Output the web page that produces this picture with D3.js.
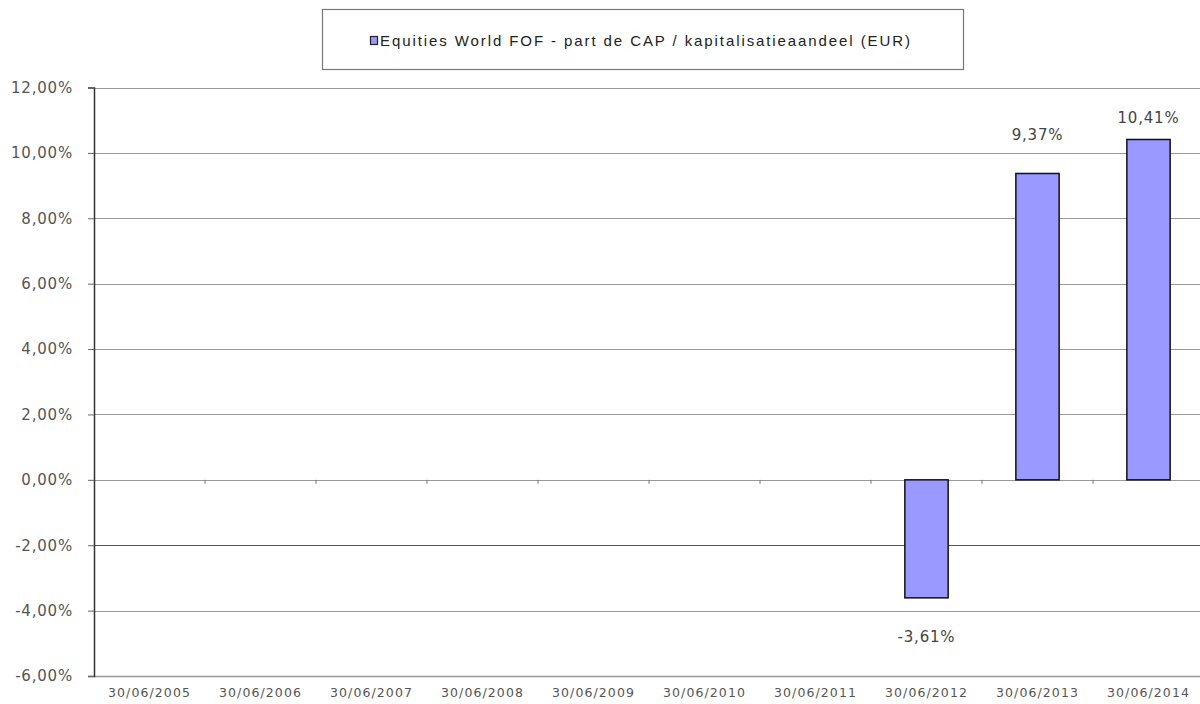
<!DOCTYPE html>
<html>
<head>
<meta charset="utf-8">
<script src="https://cdn.jsdelivr.net/npm/d3@7"></script>
<style>
  body { margin: 0; background: #fff; }
  svg { display: block; }
</style>
</head>
<body>
<div id="chart"></div>
<script>
// chart data
var categories = ['30/06/2005', '30/06/2006', '30/06/2007', '30/06/2008', '30/06/2009',
                  '30/06/2010', '30/06/2011', '30/06/2012', '30/06/2013', '30/06/2014'];
var values = [null, null, null, null, null, null, null, -3.61, 9.37, 10.41];
var yTicks = [-6, -4, -2, 0, 2, 4, 6, 8, 10, 12];
var seriesName = 'Equities World FOF - part de CAP / kapitalisatieaandeel (EUR)';

var W = 1200, H = 704;
var plotLeft = 94, plotRight = 1204, plotTop = 87.5, plotBottom = 676;

var fr = d3.formatLocale({decimal: ',', thousands: '.', grouping: [3], currency: ['', ' €'], minus: '-'});
var pct = function(v){ return fr.format('.2f')(v) + '%'; };

var svg = d3.select('#chart').append('svg')
  .attr('width', W).attr('height', H);

var x = d3.scaleBand().domain(categories).range([plotLeft, plotRight]).paddingInner(0).paddingOuter(0);
var y = d3.scaleLinear().domain([-6, 12]).range([plotBottom, plotTop]);

var labelFont = '"DejaVu Sans", sans-serif';

// gridlines
svg.append('g').selectAll('line')
  .data(yTicks)
  .enter().append('line')
  .attr('x1', plotLeft).attr('x2', plotRight)
  .attr('y1', function(d){ return Math.round(y(d)) + 0.5; })
  .attr('y2', function(d){ return Math.round(y(d)) + 0.5; })
  .attr('stroke', function(d){ return d === -2 ? '#555' : '#999'; })
  .attr('stroke-width', function(d){ return d === -6 ? 1.5 : 1.2; });

// y axis
var yAxis = d3.axisLeft(y).tickValues(yTicks).tickSize(6).tickPadding(15).tickFormat(pct);
var gy = svg.append('g').attr('transform', 'translate(' + plotLeft + ',0)').call(yAxis);
gy.select('.domain').attr('stroke', '#333').attr('stroke-width', 1.5);
gy.selectAll('.tick line').attr('stroke', '#666');
gy.selectAll('.tick text')
  .attr('fill', '#555')
  .style('font-family', labelFont)
  .style('font-size', '15px')
  .style('letter-spacing', '0.8px');

// small ticks on the zero line between categories
svg.append('g').selectAll('line')
  .data(categories.slice(1))
  .enter().append('line')
  .attr('x1', function(d){ return x(d); })
  .attr('x2', function(d){ return x(d); })
  .attr('y1', y(0)).attr('y2', y(0) + 4)
  .attr('stroke', '#777').attr('stroke-width', 1);

// x labels
svg.append('g').selectAll('text')
  .data(categories)
  .enter().append('text')
  .attr('x', function(d){ return x(d) + x.bandwidth() / 2; })
  .attr('y', 697)
  .attr('text-anchor', 'middle')
  .attr('fill', '#555')
  .style('font-family', labelFont)
  .style('font-size', '12.5px')
  .style('letter-spacing', '1.1px')
  .text(function(d){ return d; });

// bars
var barW = x.bandwidth() * 0.39;
var data = categories.map(function(c, i){ return {cat: c, v: values[i]}; })
  .filter(function(d){ return d.v !== null; });

svg.append('g').selectAll('rect')
  .data(data)
  .enter().append('rect')
  .attr('x', function(d){ return x(d.cat) + (x.bandwidth() - barW) / 2; })
  .attr('width', barW)
  .attr('y', function(d){ return y(Math.max(0, d.v)); })
  .attr('height', function(d){ return Math.abs(y(d.v) - y(0)); })
  .attr('fill', '#9999ff')
  .attr('stroke', '#111')
  .attr('stroke-width', 1.5);

// value labels (the 2013 one sits higher in the original, clear of the 10% line)
svg.append('g').selectAll('text')
  .data(data)
  .enter().append('text')
  .attr('x', function(d){ return x(d.cat) + x.bandwidth() / 2; })
  .attr('y', function(d){
    if (d.v < 0) return y(d.v) + 44;
    var ly = y(d.v) - 16;
    if (ly > y(10) - 8 && ly < y(10) + 14) ly = y(d.v) - 33;
    return ly;
  })
  .attr('text-anchor', 'middle')
  .attr('fill', '#444')
  .style('font-family', labelFont)
  .style('font-size', '15px')
  .style('letter-spacing', '0.8px')
  .text(function(d){ return pct(d.v); });

// legend
var lg = svg.append('g');
lg.append('rect')
  .attr('x', 322.5).attr('y', 9.5).attr('width', 641).attr('height', 60)
  .attr('fill', '#fff').attr('stroke', '#777').attr('stroke-width', 1.2);
lg.append('rect')
  .attr('x', 370.5).attr('y', 36.5).attr('width', 7).attr('height', 8)
  .attr('fill', '#9999ff').attr('stroke', '#222').attr('stroke-width', 1.2);
lg.append('text')
  .attr('x', 380).attr('y', 46)
  .attr('fill', '#222')
  .attr('textLength', 530)
  .attr('lengthAdjust', 'spacing')
  .style('font-family', '"Liberation Sans", Arial, sans-serif')
  .style('font-size', '15px')
  .text(seriesName);
</script>
</body>
</html>
